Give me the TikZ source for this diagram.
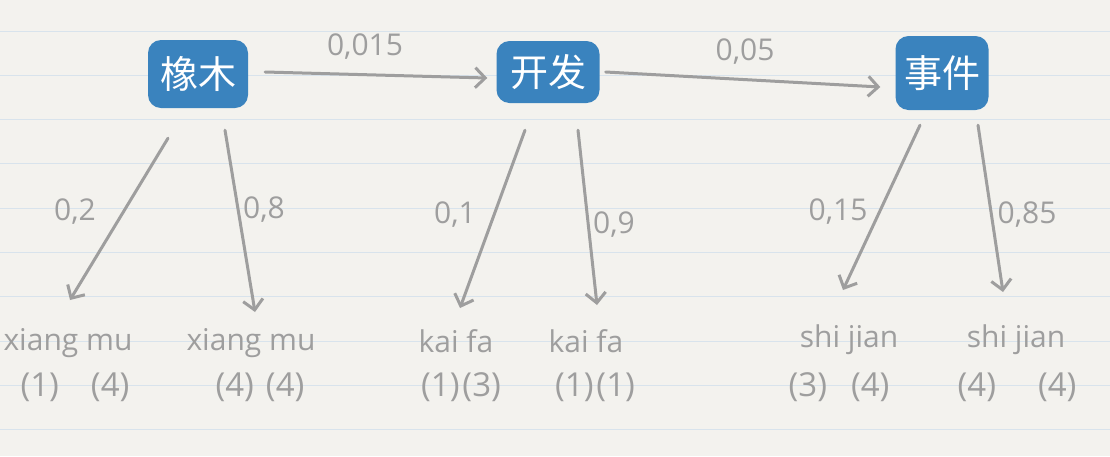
\documentclass[tikz,border=0pt]{standalone}
\usepackage{fontspec}
\setmainfont{Open Sans}
\newfontfamily\cjk{Noto Sans CJK SC}
\usetikzlibrary{arrows.meta}
\definecolor{paper}{HTML}{F3F2EE}
\definecolor{rule}{HTML}{D8E3EC}
\definecolor{boxblue}{HTML}{3A83BE}
\definecolor{pen}{HTML}{9E9E9E}
\tikzset{
  wordbox/.style={fill=boxblue, rounded corners=13pt, text=white, inner sep=0pt,
    font={\cjk\fontsize{38}{40}\selectfont}},
  arr/.style={draw=pen, line width=3pt, line cap=round,
    -{Straight Barb[length=10pt,width=20pt,line width=3pt]}},
  hand/.style={text=pen, inner sep=0pt, anchor=base, font={\fontsize{30}{32}\selectfont}},
  cnt/.style={text=pen, inner sep=0pt, anchor=base, font={\fontsize{33}{36}\selectfont}},
  prob/.style={text=pen, inner sep=0pt, font={\fontsize{30}{32}\selectfont}}
}
\begin{document}
\begin{tikzpicture}[x=1pt,y=-1pt]
\fill[paper] (0,0) rectangle (1110,456);
\useasboundingbox (0,0) rectangle (1110,456);
\foreach \k in {0,...,9} {
  \draw[rule, line width=1pt] (0,{31+44.3*\k}) -- (1110,{31+44.3*\k});
}
% boxes
\node[wordbox, minimum width=100pt, minimum height=68pt] (xm) at (198,74) {橡木};
\node[wordbox, minimum width=103pt, minimum height=62pt] (kf) at (548,72) {开发};
\node[wordbox, minimum width=93pt, minimum height=74pt] (sj) at (942,73) {事件};
% pinyin
\node[hand] (xm1) at (68,350) {xiang mu};
\node[hand] (xm2) at (251,350) {xiang mu};
\node[hand] (kf1) at (456,352) {kai fa};
\node[hand] (kf2) at (586,352) {kai fa};
\node[hand] (sj1) at (849,347) {shi jian};
\node[hand] (sj2) at (1016,347) {shi jian};
% counts
\node[cnt] (c1) at (75,396) {(1)\hspace{32pt}(4)};
\node[cnt] (c2) at (260,396) {(4)\hspace{12pt}(4)};
\node[cnt] (c3) at (461,396) {(1)\hspace{3pt}(3)};
\node[cnt] (c4) at (595,396) {(1)\hspace{3pt}(1)};
\node[cnt] (c5) at (839,396) {(3)\hspace{24pt}(4)};
\node[cnt] (c6) at (1017,396) {(4)\hspace{42pt}(4)};
% top arrows
\draw[arr] ([shift={(17,-2)}]xm.east) -- ([shift={(-9,6)}]kf.west);
\draw[arr] ([shift={(6,0)}]kf.east) -- ([shift={(-15,14)}]sj.west);
\node[prob] (p1) at (365,47) {0,015};
\node[prob] (p2) at (745,52) {0,05};
% down arrows
\draw[arr] ([shift={(-30,30)}]xm.south) -- ([shift={(2,-50)}]xm1.base);
\draw[arr] ([shift={(27,22)}]xm.south) -- ([shift={(4,-38)}]xm2.base);
\draw[arr] ([shift={(-23,27)}]kf.south) -- ([shift={(4,-44)}]kf1.base);
\draw[arr] ([shift={(30,27)}]kf.south) -- ([shift={(11,-47)}]kf2.base);
\draw[arr] ([shift={(-22,15)}]sj.south) -- ([shift={(-6,-57)}]sj1.base);
\draw[arr] ([shift={(36,15)}]sj.south) -- ([shift={(-13,-55)}]sj2.base);
\node[prob] (p3) at (75,212) {0,2};
\node[prob] (p4) at (264,210) {0,8};
\node[prob] (p5) at (455,215) {0,1};
\node[prob] (p6) at (614,225) {0,9};
\node[prob] (p7) at (838,212) {0,15};
\node[prob] (p8) at (1027,215) {0,85};
\end{tikzpicture}
\end{document}
